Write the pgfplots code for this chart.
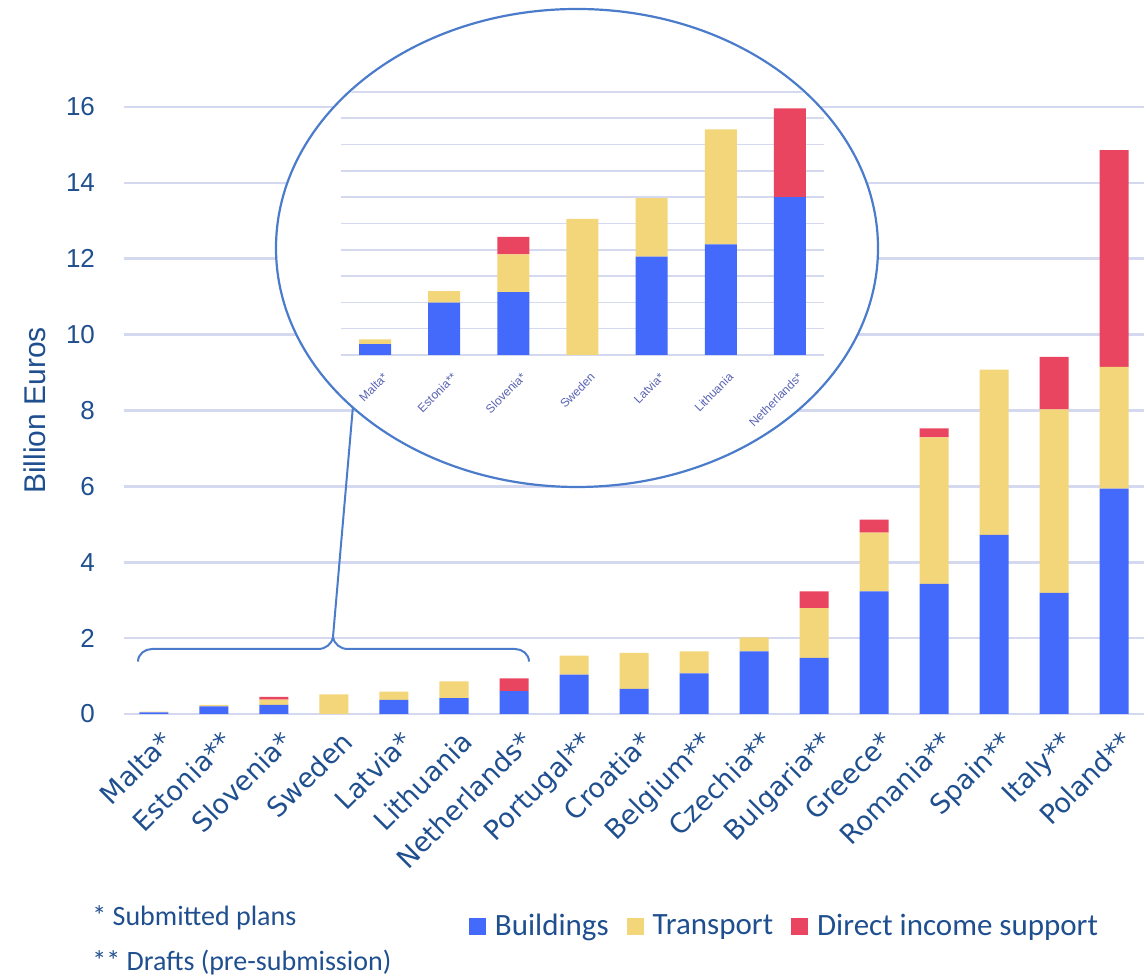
\documentclass[border=0pt]{standalone}
\usepackage{fontspec}
\setmainfont{Liberation Sans}
\newfontfamily\dejavu{DejaVu Sans}
\newfontfamily\carlito{Carlito}
\usepackage{pgfplots}
\pgfplotsset{compat=1.18}
\usepackage{pgfplotstable}

\definecolor{bblue}{RGB}{67,106,251}
\definecolor{byellow}{RGB}{244,214,122}
\definecolor{bred}{RGB}{233,69,96}
\definecolor{gridc}{RGB}{213,217,240}
\definecolor{ellc}{RGB}{74,124,203}
\definecolor{txt}{RGB}{31,79,143}
\definecolor{insettxt}{RGB}{90,100,180}

\pgfplotsset{sqlegend/.style={legend image code/.code={\fill[##1] (0pt,-4.25pt) rectangle (8.5pt,4.25pt);}}}

% x: 0 Malta,1 Estonia,2 Slovenia,3 Sweden,4 Latvia,5 Lithuania,6 Netherlands,7 Portugal,8 Croatia,
% 9 Belgium,10 Czechia,11 Bulgaria,12 Greece,13 Romania,14 Spain,15 Italy,16 Poland
\pgfplotstableread{
x  B     T     D
0  0.04  0.02  0
1  0.20  0.04  0
2  0.24  0.14  0.07
3  0     0.52  0
4  0.37  0.22  0
5  0.42  0.44  0
6  0.60  0     0.34
7  1.04  0.50  0
8  0.66  0.95  0
9  1.07  0.58  0
10 1.65  0.37  0
11 1.48  1.31  0.44
12 3.23  1.55  0.34
13 3.43  3.86  0.24
14 4.72  4.36  0
15 3.19  4.84  1.38
16 5.94  3.21  5.71
}\maindata

\pgfplotstableread{
x  B     T     D
0  0.041 0.018 0
1  0.199 0.044 0
2  0.239 0.144 0.066
3  0     0.518 0
4  0.374 0.222 0
5  0.421 0.437 0
6  0.600 0     0.338
}\insetdata

\begin{document}
\begin{tikzpicture}
\useasboundingbox (-62pt,-131.5pt) rectangle (512pt,357pt);
\begin{axis}[
  at={(0pt,0pt)}, anchor=south west,
  scale only axis, width=510pt, height=303.5pt,
  xmin=-0.5, xmax=16.5, ymin=0, ymax=16,
  ybar stacked, bar width=14.5pt,
  axis line style={draw=none},
  major tick length=0pt,
  ytick={0,2,4,6,8,10,12,14,16},
  ymajorgrids, grid style={gridc, line width=1.3pt},
  xtick={0,...,16},
  xticklabels={Malta*,Estonia**,Slovenia*,Sweden,Latvia*,Lithuania,Netherlands*,Portugal**,Croatia*,Belgium**,Czechia**,Bulgaria**,Greece*,Romania**,Spain**,Italy**,Poland**},
  xticklabel style={rotate=45, anchor=north east, font=\dejavu\fontsize{13.5}{15}\selectfont, text=txt, yshift=-4pt},
  yticklabel style={font=\fontsize{13}{15}\selectfont, text=txt, xshift=-11pt},
  /pgf/number format/assume math mode=true,
  ylabel={Billion Euros},
  ylabel style={at={(axis description cs:-0.0873,0.5)}, anchor=center, font=\fontsize{15}{17}\selectfont, text=txt},
  legend style={at={(0.3382,-0.3493)}, anchor=west, draw=none, fill=none,
    inner sep=0pt, outer sep=0pt, legend columns=-1,
    font=\carlito\fontsize{15.5}{18}\selectfont, text=txt,
    nodes={inner sep=0pt},
    /tikz/every odd column/.append style={column sep=4.5pt},
    /tikz/every even column/.append style={column sep=9pt}},
]
\addplot[fill=bblue, draw=none, sqlegend] table[x=x,y=B]{\maindata};
\addplot[fill=byellow, draw=none, sqlegend] table[x=x,y=T]{\maindata};
\addplot[fill=bred, draw=none, sqlegend] table[x=x,y=D]{\maindata};
\legend{Buildings, Transport, Direct income support}
\end{axis}

% brace and connector
\draw[ellc, line width=1pt] (7pt,26.2pt) to[out=90,in=180] (14pt,32.5pt) -- (97pt,32.5pt)
   to[out=0,in=-100] (104.5pt,38.5pt) to[out=-80,in=180] (112pt,32.5pt) -- (195.5pt,32.5pt)
   to[out=0,in=90] (202.5pt,26.2pt);
\draw[ellc, line width=1pt] (104.5pt,38.5pt) -- (116.75pt,180pt);

% magnifier ellipse
\filldraw[fill=white, draw=ellc, line width=1.1pt] (226.5pt,233pt) ellipse [x radius=150.5pt, y radius=119.5pt];

\begin{scope}
\clip (226.5pt,233pt) ellipse [x radius=149.5pt, y radius=118.5pt];
\begin{axis}[
  at={(108.25pt,179.5pt)}, anchor=south west,
  scale only axis, width=242pt, height=131.5pt,
  xmin=-0.5, xmax=6.5, ymin=0, ymax=1,
  ybar stacked, bar width=16pt,
  axis line style={draw=none},
  major tick length=0pt,
  ytick={0,0.1,0.2,0.3,0.4,0.5,0.6,0.7,0.8,0.9,1},
  yticklabels={},
  ymajorgrids, grid style={gridc, line width=0.8pt},
  xtick={0,...,6},
  xticklabels={Malta*,Estonia**,Slovenia*,Sweden,Latvia*,Lithuania,Netherlands*},
  xticklabel style={rotate=45, anchor=north east, font=\fontsize{6}{7}\selectfont, text=insettxt, yshift=-5pt},
]
\addplot[fill=bblue, draw=none] table[x=x,y=B]{\insetdata};
\addplot[fill=byellow, draw=none] table[x=x,y=T]{\insetdata};
\addplot[fill=bred, draw=none] table[x=x,y=D]{\insetdata};
\end{axis}
\end{scope}

\node[anchor=west, font=\carlito\fontsize{14}{16}\selectfont, text=txt, inner sep=0pt] at (-16pt,-102pt) {* Submitted plans};
\node[anchor=west, font=\carlito\fontsize{14}{16}\selectfont, text=txt, inner sep=0pt] at (-16pt,-124.5pt) {** Drafts (pre-submission)};
\end{tikzpicture}
\end{document}
